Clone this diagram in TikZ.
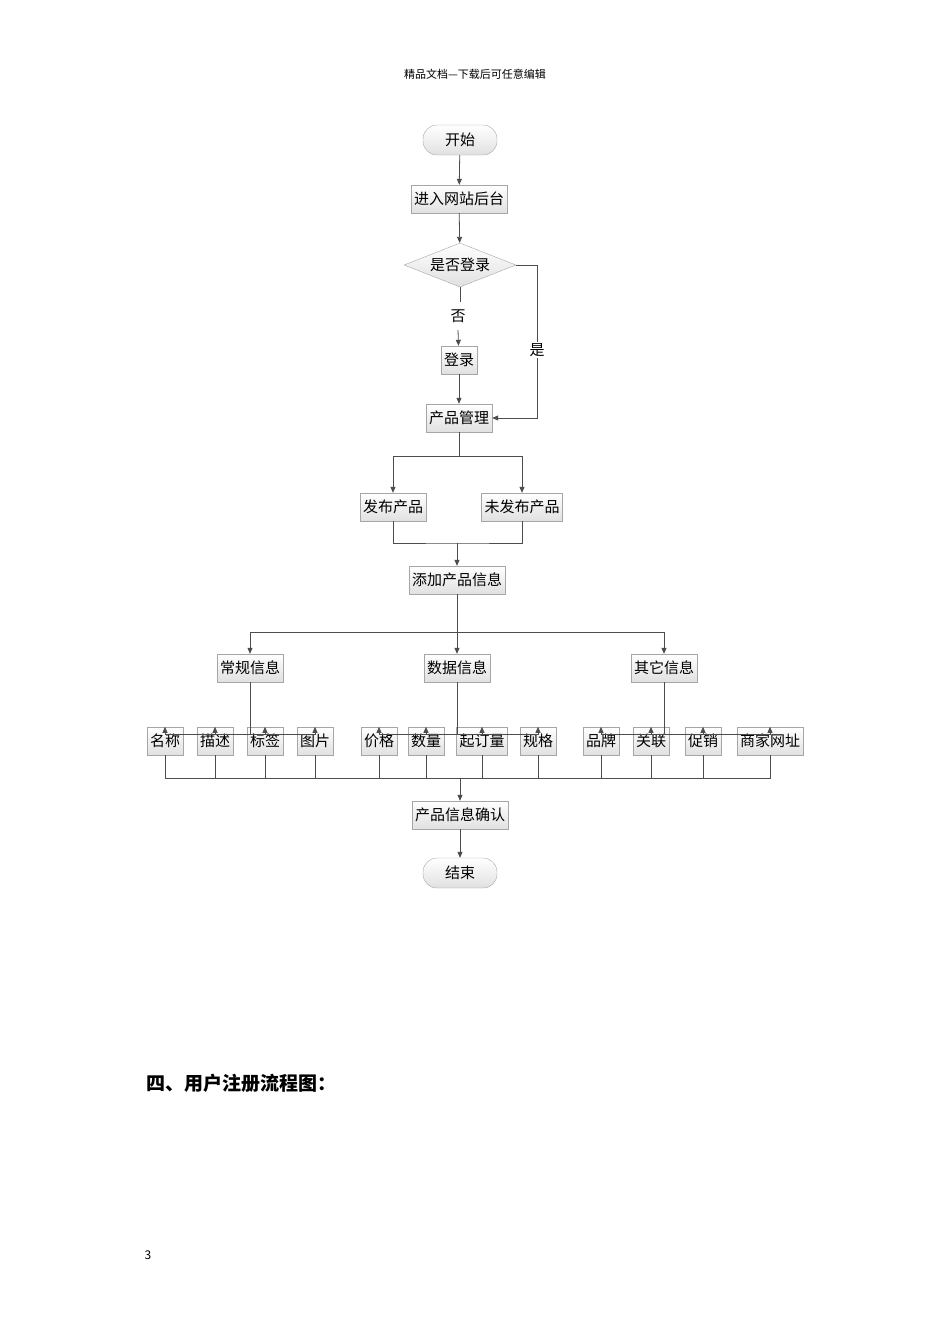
\documentclass[tikz,border=0pt]{standalone}
\usepackage{fontspec}
\setmainfont{Noto Sans CJK SC}
\usetikzlibrary{shapes.geometric,arrows.meta}
\begin{document}
\begin{tikzpicture}[x=1pt,y=-1pt,
 box/.style={draw=black!35,top color=white,bottom color=black!12,minimum height=28pt,inner xsep=3pt,font=\fontsize{15}{15}\selectfont},
 term/.style={box,rounded corners=14pt,minimum width=74pt,minimum height=30pt},
 dia/.style={diamond,aspect=2.5,draw=black!35,top color=white,bottom color=black!12,inner sep=1pt,minimum width=112pt,minimum height=44pt,font=\fontsize{15}{15}\selectfont},
 ln/.style={draw=black!70,line width=0.8pt},
 ar/.style={ln,-{Triangle[length=6pt,width=5pt]}},
 lbl/.style={font=\fontsize{15}{15}\selectfont}]
\useasboundingbox (0,0) rectangle (950,1344);
\node[font=\fontsize{11}{11}\selectfont] (hdr) at (475,74) {精品文档---下载后可任意编辑};
\node[term] (start) at (460,140) {开始};
\node[box] (enter) at (459,199) {进入网站后台};
\node[dia] (q) at (460,265) {是否登录};
\node[box] (login) at (459,360) {登录};
\node[box] (pm) at (459,418) {产品管理};
\node[box] (pub) at (393,507) {发布产品};
\node[box] (unpub) at (522,507) {未发布产品};
\node[box] (add) at (457,580) {添加产品信息};
\node[box] (g1) at (250,668) {常规信息};
\node[box] (g2) at (457,668) {数据信息};
\node[box] (g3) at (664,668) {其它信息};
\foreach \n/\x/\t in {a/165/名称,b/215/描述,c/265/标签,d/315/图片,e/379/价格,f/426/数量,g/482/起订量,h/538/规格,i/601/品牌,j/651/关联,k/703/促销,l/770/商家网址}
  \node[box] (\n) at (\x,741) {\t};
\node[box] (conf) at (460,815) {产品信息确认};
\node[term] (end) at (460,873) {结束};
\draw[ar] (start) -- (enter);
\draw[ar] (enter) -- (q);
\draw[ln] (q.south) -- (460,302);
\node[lbl] (no) at (458,316) {否};
\draw[ar] (no.south |- 0,330) -- (login);
\draw[ar] (login) -- (pm);
\draw[ar] (q.east) -- (537,265) -- (537,418) -- (pm.east);
\node[lbl,fill=white,inner sep=1pt] (yes) at (537,350) {是};
\draw[ln] (pm.south) -- (459,456) coordinate (s1);
\draw[ar] (s1) -| (pub.north);
\draw[ar] (s1) -| (unpub.north);
\draw[ln] (pub.south) |- (457,543) coordinate (s2) -| (unpub.south);
\draw[ar] (s2) -- (add);
\draw[ln] (add.south) -- (457,632) coordinate (s3);
\draw[ar] (s3) -| (g1.north);
\draw[ar] (s3) -- (g2);
\draw[ar] (s3) -| (g3.north);
\foreach \g/\y in {g1/a,g1/b,g1/c,g1/d,g2/e,g2/f,g2/g,g2/h,g3/i,g3/j,g3/k,g3/l}{
  \draw[ln] (\g.south) |- ([yshift=-8pt]\y.north);
  \draw[ar] ([yshift=-8pt]\y.north) -- (\y.north);}
\draw[ln] (a.south) |- (l.south |- 0,778) -- (l.south);
\foreach \y in {b,c,d,e,f,g,h,i,j,k} \draw[ln] (\y.south) -- (\y.south |- 0,778);
\coordinate (s4) at (460,778);
\draw[ar] (s4) -- (conf);
\draw[ar] (conf) -- (end);
\node[anchor=west,font=\fontsize{19}{19}\selectfont\bfseries] (sec) at (143,1083) {四、用户注册流程图：};
\node[font=\fontsize{12}{12}\selectfont] (pg) at (148,1255) {3};
\end{tikzpicture}
\end{document}
